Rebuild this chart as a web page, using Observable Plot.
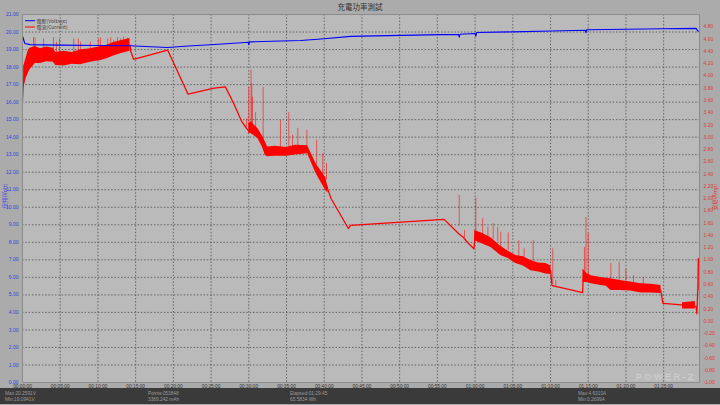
<!DOCTYPE html>
<html><head><meta charset="utf-8">
<script src="https://cdn.jsdelivr.net/npm/d3@7"></script>
<script src="https://cdn.jsdelivr.net/npm/@observablehq/plot@0.6"></script>
<style>
html,body{margin:0;padding:0;background:#ababab;}
#chart{width:720px;height:405px;}
</style></head><body><div id="chart"></div>
<script>
const title = "充電功率測試";
const seriesNames = ["電壓(Voltage)", "電流(Current)"];
const yLabelLeft = "伏特(Volt)";
const yLabelRight = "安培(Amp)";
const xTicks = [0,5,10,15,20,25,30,35,40,45,50,55,60,65,70,75,80,85];
const voltTicks = [0,1,2,3,4,5,6,7,8,9,10,11,12,13,14,15,16,17,18,19,20,21];
const ampTicks = [-1,-0.8,-0.6,-0.4,-0.2,0,0.2,0.4,0.6,0.8,1,1.2,1.4,1.6,1.8,2,2.2,2.4,2.6,2.8,3,3.2,3.4,3.6,3.8,4,4.2,4.4,4.6,4.8];
const statusLeft = ["Max:20.2591V", "Min:19.0941V"];
const statusMid = ["Points:053848", "3369.242 mAh"];
const statusMid2 = ["Elapsed:01:29:45", "65.5834 Wh"];
const statusRight = ["Max:4.6310A", "Min:0.2699A"];

// voltage [minutes, volts]
const voltage = [[0,19.45],[0.05,19.72],[0.3,19.35],[1,19.28],[5,19.25],[10,19.23],[14.3,19.22],[17,19.16],[19.2,19.12],[22,19.2],[26,19.3],[29,19.39],[29.9,19.42],[30.0,19.28],[30.1,19.44],[33,19.47],[36.9,19.52],[40,19.62],[43.5,19.75],[50.2,19.81],[55.5,19.85],[57.8,19.86],[57.9,19.71],[58.0,19.87],[60.0,19.92],[60.1,19.76],[60.2,19.97],[65,20.01],[70.1,20.06],[74.6,20.1],[74.7,19.97],[74.8,20.13],[80,20.16],[84.9,20.19],[89.3,20.21],[89.5,20.06],[89.75,20.06]];

// current trace segments between noisy bands [minutes, amps, segment]
const currentTrace = [
[0,3.6,1],[0.1,3.85,1],[0.4,4.1,1],
[14.25,4.5,2],[14.35,4.4,2],[14.73,4.27,2],[19.24,4.42,2],[21.95,3.70,2],[25.4,3.80,2],[26.9,3.82,2],[28.0,3.55,2],[29.0,3.27,2],[29.6,3.16,2],[30.0,3.1,2],[30.3,3.14,2],
[40.3,2.22,3],[40.5,2.14,3],[40.9,2.0,3],[43.2,1.51,3],[43.5,1.56,3],[55.9,1.66,3],[57.8,1.43,3],[58.5,1.36,3],[59.1,1.27,3],[59.85,1.18,3],[60.0,1.40,3],
[70.0,0.83,4],[70.2,0.58,4],[72,0.53,4],[74.25,0.465,4],[74.35,0.74,4],
[84.6,0.51,5],[84.9,0.29,5],[87,0.27,5],[89.3,0.24,5],[89.4,0.12,5],[89.55,0.6,5],[89.6,1.02,5],[89.75,0.9,5]];

// noisy bands [minutes, low, high] in amps
const band1 = [[0.15,3.8,4.15],[0.5,3.96,4.3],[0.8,4.05,4.42],[1.0,4.1,4.45],[1.7,4.2,4.48],[2.4,4.2,4.44],[3.2,4.23,4.47],[4.1,4.22,4.45],[4.4,4.17,4.38],[5.5,4.16,4.4],[6.6,4.19,4.38],[7.7,4.18,4.42],[9.0,4.22,4.44],[10.4,4.25,4.48],[11.2,4.28,4.5],[12.0,4.32,4.54],[13.0,4.36,4.57],[14.25,4.4,4.61]];
const band2 = [[30.0,3.06,3.22],[30.3,3.06,3.25],[31.2,2.98,3.14],[31.8,2.84,3.02],[32.2,2.70,2.92],[32.5,2.68,2.84],[33.5,2.69,2.85],[35,2.69,2.83],[36.2,2.71,2.87],[37.8,2.73,2.86],[38.9,2.41,2.57],[40.2,2.13,2.34],[40.5,2.09,2.18]];
const band3 = [[59.95,1.31,1.48],[61.0,1.26,1.43],[62.1,1.20,1.36],[63.4,1.07,1.22],[64.4,1.02,1.14],[65.4,0.94,1.07],[66.4,0.9,1.05],[67.4,0.82,0.99],[68.4,0.8,0.95],[69.4,0.77,0.94],[70.05,0.76,0.90]];
const band4 = [[74.3,0.63,0.85],[74.8,0.63,0.78],[75.4,0.61,0.74],[76.7,0.58,0.71],[77.4,0.57,0.7],[78.0,0.50,0.69],[79.4,0.50,0.66],[80.6,0.49,0.64],[82.0,0.46,0.61],[83.3,0.46,0.6],[84.65,0.45,0.58]];
const band5 = [[87.5,0.2,0.3],[89.2,0.2,0.32]];

// spikes [minutes, base, peak] in amps
const spikes = [[1.46,4.4,4.62],[1.66,4.4,4.62],[2.8,4.4,4.6],[4.1,4.4,4.62],[4.5,4.35,4.55],[4.9,4.35,4.6],[6.8,4.38,4.6],[7.4,4.38,4.6],[7.7,4.38,4.55],[9.0,4.4,4.55],[10.1,4.44,4.6],[10.35,4.44,4.62],[11.3,4.48,4.6],[11.7,4.5,4.62],[12.1,4.52,4.58],[12.6,4.55,4.62],[13.0,4.56,4.6],[13.4,4.58,4.63],[13.9,4.6,4.62],
[29.7,3.15,3.3],[30.0,3.2,3.81],[30.3,3.22,4.09],[30.4,3.2,3.87],[30.5,3.2,3.65],[30.9,3.1,3.40],[31.9,2.9,3.81],[34.2,2.82,3.27],[35.3,2.82,3.40],[35.8,2.82,3.03],[36.5,2.84,3.14],[37.7,2.85,3.11],[39.0,2.55,2.95],[39.8,2.35,2.73],[40.3,2.3,2.57],
[57.9,1.55,2.05],[58.6,1.36,1.48],
[60.1,1.45,2.01],[61.0,1.4,1.67],[61.7,1.35,1.53],[62.4,1.33,1.59],[63.0,1.3,1.53],[63.4,1.2,1.45],[64.4,1.15,1.44],[65.8,1.05,1.31],[66.5,1.0,1.18],[67.7,0.98,1.31],
[70.3,0.6,1.18],[70.7,0.56,0.66],
[74.5,0.8,1.2],[74.7,0.8,1.69],[75.0,0.74,1.43],[78.0,0.69,0.94],[79.1,0.66,0.96],[80.0,0.65,0.85],[81.0,0.63,0.74],[82.3,0.6,0.71],
[89.6,0.5,1.02]];

const AMP_MIN = -1, AMP_MAX = 5, V_MAX = 21;
const a2v = a => (a - AMP_MIN) * V_MAX / (AMP_MAX - AMP_MIN);
const pad = n => String(n).padStart(2, "0");
const fmtTime = m => `${pad(Math.floor(m / 60))}:${pad(m % 60)}:00`;
const RED = "#ff0000", BLUE = "#0000ff";
const font = "'Liberation Sans', Arial, sans-serif";
const cjk = "'Noto Sans CJK TC', sans-serif";

const bandMark = b => Plot.areaY(b, {x: d => d[0], y1: d => a2v(d[1]), y2: d => a2v(d[2]), fill: RED, stroke: "none"});

const svg = Plot.plot({
  width: 720, height: 405,
  marginLeft: 22, marginRight: 21, marginTop: 14, marginBottom: 23,
  style: {background: "#ababab", fontFamily: font, fontSize: "5px", overflow: "visible"},
  x: {domain: [0, 89.75]},
  y: {domain: [0, V_MAX]},
  marks: [
    Plot.frame({fill: "#bababa", stroke: null}),
    Plot.gridX(xTicks.slice(1), {stroke: "#555", strokeOpacity: 0.85, strokeDasharray: "1.5,1.8"}),
    Plot.gridY(voltTicks.slice(1, -1), {stroke: "#555", strokeOpacity: 0.85, strokeDasharray: "1.5,1.8"}),
    Plot.ruleX(spikes, {x: d => d[0], y1: d => a2v(d[1]), y2: d => a2v(d[2]), stroke: RED, strokeOpacity: 0.55, strokeWidth: 1}),
    bandMark(band1), bandMark(band2), bandMark(band3), bandMark(band4), bandMark(band5),
    Plot.line(currentTrace, {x: d => d[0], y: d => a2v(d[1]), z: d => d[2], stroke: RED, strokeWidth: 1.25, strokeLinejoin: "round"}),
    Plot.line(voltage, {x: d => d[0], y: d => d[1], stroke: BLUE, strokeWidth: 1.1}),
    Plot.frame({stroke: "#8c8c8c"}),
    Plot.axisX(xTicks, {tickSize: 0, tickPadding: 2, tickFormat: fmtTime, fill: "#333", label: null, fontSize: 4.8}),
    Plot.axisY(voltTicks, {anchor: "left", tickSize: 0, tickPadding: 4, tickFormat: d => d.toFixed(2), fill: "#3a3ae0", label: null, fontSize: 5}),
    Plot.axisY(ampTicks.map(a2v), {anchor: "right", tickSize: 0, tickPadding: 4, tickFormat: v => (v * (AMP_MAX - AMP_MIN) / V_MAX + AMP_MIN).toFixed(2), fill: "#e03838", label: null, fontSize: 5})
  ]
});

const s = d3.select(svg);
const txt = (x, y, str, size, color, family, anchor) =>
  s.append("text").attr("x", x).attr("y", y).attr("text-anchor", anchor || "start")
    .attr("font-size", size).attr("fill", color).attr("font-family", family).text(str);
// title
txt(360, 9.5, title, 7.5, "#333", cjk, "middle");
// legend
[[BLUE, 20.7], [RED, 27]].forEach(([c, y], i) => {
  s.append("line").attr("x1", 25).attr("x2", 35).attr("y1", y).attr("y2", y).attr("stroke", c).attr("stroke-width", 1);
  txt(36.5, y + 1.8, seriesNames[i], 5, "#444", cjk);
});
// axis labels
s.append("text").attr("transform", "translate(7,196) rotate(-90)").attr("text-anchor", "middle")
  .attr("font-size", 5.5).attr("fill", "#3a3ae0").attr("font-family", cjk).text(yLabelLeft);
s.append("text").attr("transform", "translate(717,197) rotate(-90)").attr("text-anchor", "middle")
  .attr("font-size", 5.5).attr("fill", "#e03838").attr("font-family", cjk).text(yLabelRight);
// watermark
s.append("text").attr("x", 696).attr("y", 380).attr("text-anchor", "end").attr("font-size", 9)
  .attr("letter-spacing", 2.5).attr("fill", "none").attr("stroke", "#cfcfcf").attr("stroke-width", 0.5)
  .attr("font-family", font).text("POWER-Z");
// status bar
s.append("rect").attr("x", 0).attr("y", 388).attr("width", 720).attr("height", 16).attr("fill", "#3a3a3a");
[[5, statusLeft], [148, statusMid], [290, statusMid2], [578, statusRight]].forEach(([x, lines]) => {
  lines.forEach((t, i) => txt(x, 394.5 + i * 6.3, t, 4.8, "#9a9a9a", font));
});
document.getElementById("chart").appendChild(svg);
</script></body></html>
